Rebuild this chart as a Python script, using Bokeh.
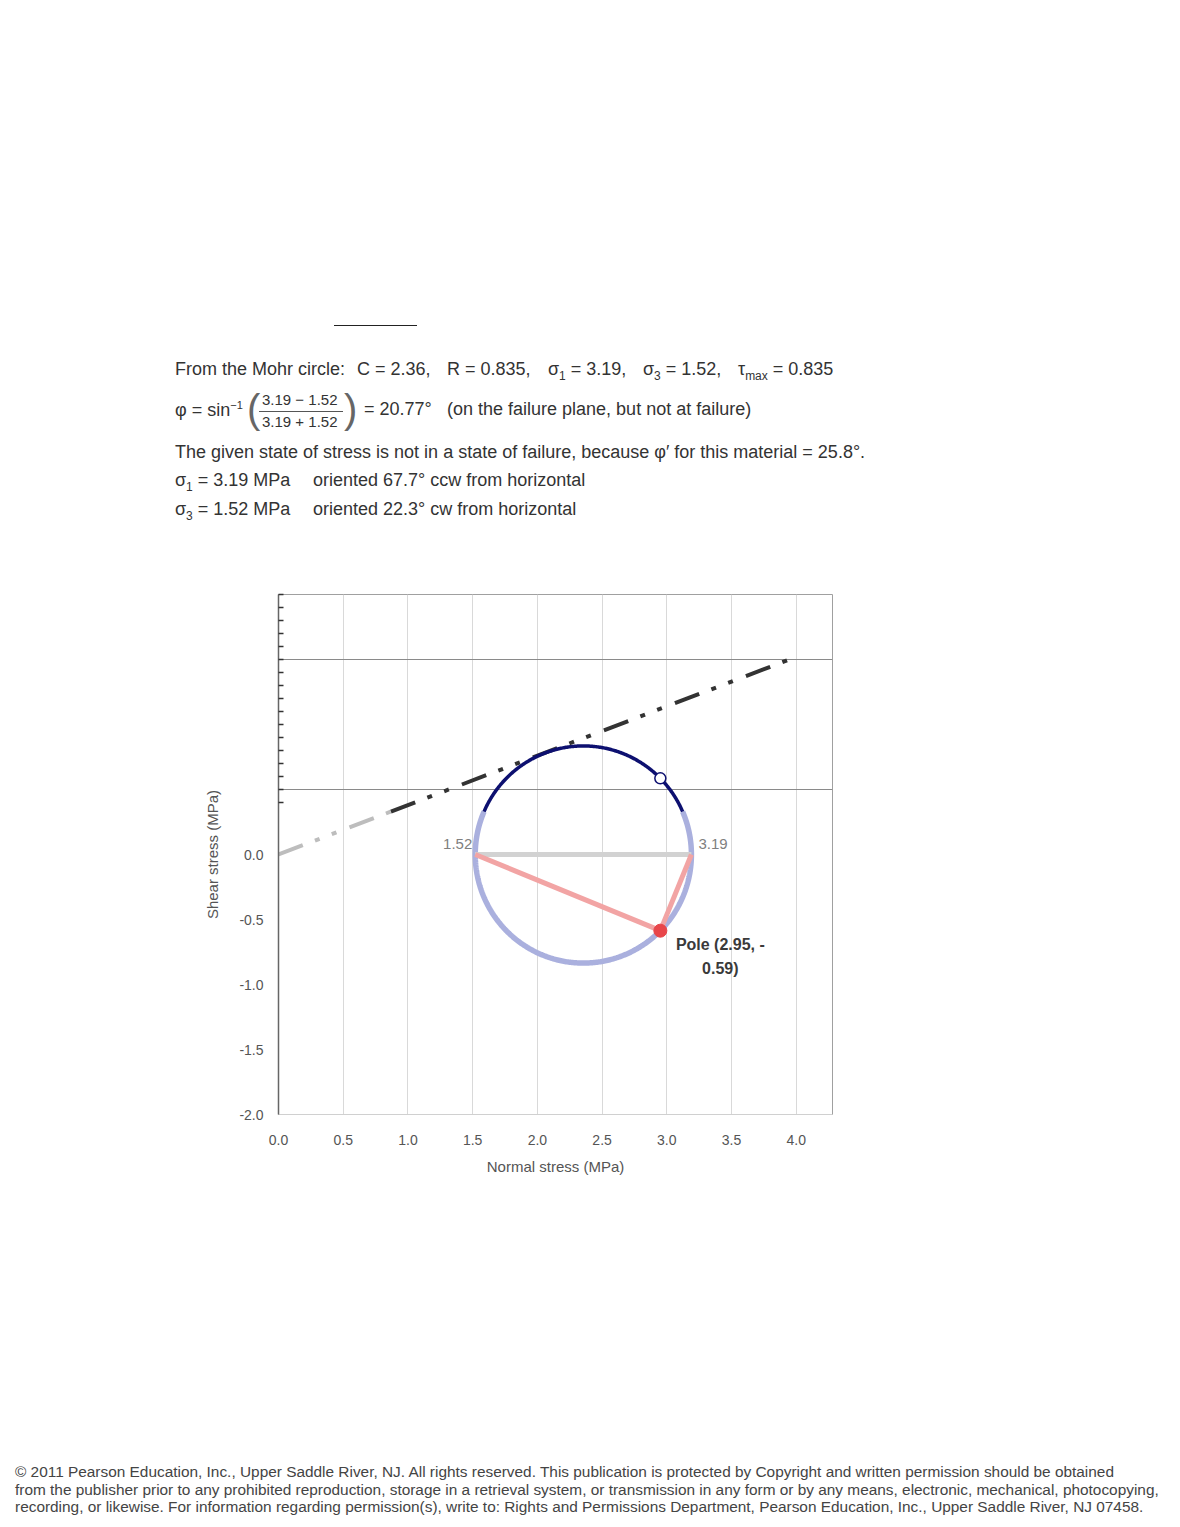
import numpy as np
from bokeh.plotting import figure
from bokeh.models import Div, FixedTicker, PrintfTickFormatter
from bokeh.layouts import column
from bokeh.core.properties import value
from bokeh.embed import file_html
from bokeh.resources import INLINE

# ---------------- data ----------------
sigma1 = 3.19          # major principal stress (MPa)
sigma3 = 1.52          # minor principal stress (MPa)
center = 2.355         # Mohr circle centre
radius = 0.835         # Mohr circle radius
pole = (2.95, -0.586)  # pole point
plane_pt = (2.95, 0.586)  # stress-state point (open marker)
env_sigma = [0.0, 4.0]     # failure envelope
env_tau = [0.0, 1.52]
x_ticks = [0.0, 0.5, 1.0, 1.5, 2.0, 2.5, 3.0, 3.5, 4.0]
y_ticks = [-2.0, -1.5, -1.0, -0.5, 0.0]
y_minor = [round(0.4 + 0.1 * i, 1) for i in range(17)]
y_grid = [0.5, 1.5]
end_labels = ["1.52", "3.19"]
pole_label = ["Pole (2.95, -", "0.59)"]

SPLIT = 0.33  # boundary between the sharp and the soft part of the picture

FONT = "Liberation Sans"

# ---------------- figure ----------------
p = figure(width=1164, height=866, x_range=(0, 4.28), y_range=(-2.0, 2.0),
           output_backend="svg", toolbar_location=None,
           min_border_left=278, min_border_right=332,
           min_border_top=18, min_border_bottom=328,
           background_fill_color="white", border_fill_color="white")

p.outline_line_color = "#a0a0a0"
p.outline_line_width = 1

p.xaxis.ticker = FixedTicker(ticks=x_ticks)
p.yaxis.ticker = FixedTicker(ticks=y_ticks, minor_ticks=y_minor)
p.xgrid.ticker = FixedTicker(ticks=x_ticks)
p.ygrid.ticker = FixedTicker(ticks=y_grid)
p.xgrid.grid_line_color = "#d9d9d9"
p.ygrid.grid_line_color = "#8a8a8a"
p.xaxis.formatter = PrintfTickFormatter(format="%.1f")
p.yaxis.formatter = PrintfTickFormatter(format="%.1f")

for ax in (p.xaxis, p.yaxis):
    ax.major_label_text_font = FONT
    ax.major_label_text_font_size = "14px"
    ax.major_label_text_color = "#555555"
    ax.axis_label_text_font = FONT
    ax.axis_label_text_font_size = "15px"
    ax.axis_label_text_font_style = "normal"
    ax.axis_label_text_color = "#555555"

p.xaxis.axis_label = "Normal stress (MPa)"
p.xaxis.axis_line_color = "#d0d0d0"
p.xaxis.major_tick_line_color = None
p.xaxis.minor_tick_line_color = None
p.xaxis.major_label_standoff = 14
p.xaxis.axis_label_standoff = 10

p.yaxis.axis_label = "Shear stress (MPa)"
p.yaxis.axis_line_color = "#666666"
p.yaxis.axis_line_width = 1.5
p.yaxis.major_tick_in = 0
p.yaxis.major_tick_out = 0
p.yaxis.minor_tick_in = 5
p.yaxis.minor_tick_out = 0
p.yaxis.minor_tick_line_color = "#333333"
p.yaxis.minor_tick_line_width = 1.5
p.yaxis.major_label_standoff = 15
p.yaxis.axis_label_standoff = 15

# failure envelope (dash-dot-dot)
slope = (env_tau[1] - env_tau[0]) / (env_sigma[1] - env_sigma[0])
s_split = env_sigma[0] + (SPLIT - env_tau[0]) / slope
p.line([env_sigma[0], s_split], [env_tau[0], SPLIT], line_color="#bdbdbd",
       line_width=4, line_dash="26 13 5 13 5 14")
p.line([s_split, env_sigma[1]], [SPLIT, env_tau[1]], line_color="#333333",
       line_width=4, line_dash="26 13 5 13 5 14")

# Mohr circle
a = np.arcsin(SPLIT / radius)
th_up = np.linspace(a, np.pi - a, 240)
th_lo = np.linspace(np.pi - a, 2 * np.pi + a, 360)
p.line(center + radius * np.cos(th_lo), radius * np.sin(th_lo),
       line_color="#aab0de", line_width=5.5)
p.line(center + radius * np.cos(th_up), radius * np.sin(th_up),
       line_color="#0d1070", line_width=3.5)

# diameter sigma3 - sigma1
p.line([sigma3, sigma1], [0, 0], line_color="#d2d2d2", line_width=5)
# lines from pole to principal stresses
p.line([sigma3, pole[0]], [0, pole[1]], line_color="#f2a4a4", line_width=5)
p.line([sigma1, pole[0]], [0, pole[1]], line_color="#f2a4a4", line_width=5)

p.scatter([pole[0]], [pole[1]], size=13, fill_color="#e8464a", line_color="#e8464a")
p.scatter([plane_pt[0]], [plane_pt[1]], size=11, fill_color="white",
          line_color="#0d1070", line_width=1.5)

# end labels
p.text(x=[sigma3], y=[0], text=[end_labels[0]], x_offset=-3, y_offset=-11,
       text_align="right", text_baseline="middle", text_font=value(FONT),
       text_font_size="15px", text_color="#808080")
p.text(x=[sigma1], y=[0], text=[end_labels[1]], x_offset=7, y_offset=-11,
       text_align="left", text_baseline="middle", text_font=value(FONT),
       text_font_size="15px", text_color="#808080")
# pole label
p.text(x=[pole[0], pole[0]], y=[pole[1], pole[1]], text=pole_label,
       x_offset=[60, 60], y_offset=[14, 38], text_align="center",
       text_baseline="middle", text_font=value(FONT), text_font_size="16px",
       text_font_style="bold", text_color="#3a3a3a")

# ---------------- page text ----------------
OX, OY = 5, 5   # page offset of the text blocks


def span(x, yc, html, size=18, color="#333"):
    top = yc - size * 0.6 - OY
    return (f'<div style="position:absolute;left:{x-OX}px;top:{top}px;'
            f'font-family:\'{FONT}\';font-size:{size}px;color:{color};'
            f'white-space:nowrap;line-height:1.2;">{html}</div>')


SUB = "<sub style='font-size:12px'>{}</sub>"
parts = []
parts.append(f'<div style="position:absolute;left:{334-OX}px;top:{325-OY}px;width:83px;'
             'border-top:1.5px solid #222;"></div>')
parts += [
    span(175, 370, "From the Mohr circle:"),
    span(357, 370, "C = 2.36,"),
    span(447, 370, "R = 0.835,"),
    span(548, 370, "σ" + SUB.format("1") + " = 3.19,"),
    span(643, 370, "σ" + SUB.format("3") + " = 1.52,"),
    span(738, 370, "τ" + SUB.format("max") + " = 0.835"),
    span(175, 410, "φ = sin<sup style='font-size:11px'>−1</sup>"),
    span(247, 409, "(", size=40, color="#666"),
    span(262, 400, "3.19 − 1.52", size=15),
    span(262, 422, "3.19 + 1.52", size=15),
    span(344, 409, ")", size=40, color="#666"),
    span(364, 410, "= 20.77°"),
    span(447, 410, "(on the failure plane, but not at failure)"),
    span(175, 453, "The given state of stress is not in a state of failure, "
                   "because φ′ for this material = 25.8°."),
    span(175, 481, "σ" + SUB.format("1") + " = 3.19 MPa"),
    span(313, 481, "oriented 67.7° ccw from horizontal"),
    span(175, 510, "σ" + SUB.format("3") + " = 1.52 MPa"),
    span(313, 510, "oriented 22.3° cw from horizontal"),
]
parts.append(f'<div style="position:absolute;left:{259-OX}px;top:{411-OY}px;width:84px;'
             'border-top:1px solid #555;"></div>')
top_div = Div(text='<div style="position:relative;width:1164px;height:566px;">'
              + "".join(parts) + "</div>", width=1164, height=566)

foot_lines = [
    "© 2011 Pearson Education, Inc., Upper Saddle River, NJ. All rights reserved. "
    "This publication is protected by Copyright and written permission should be obtained",
    "from the publisher prior to any prohibited reproduction, storage in a retrieval system, "
    "or transmission in any form or by any means, electronic, mechanical, photocopying,",
    "recording, or likewise. For information regarding permission(s), write to: Rights and "
    "Permissions Department, Pearson Education, Inc., Upper Saddle River, NJ 07458.",
]
fparts = []
for i, t in enumerate(foot_lines):
    top = 17 + i * 17.5
    fparts.append(f'<div style="position:absolute;left:10px;top:{top}px;'
                  f'font-family:\'{FONT}\';font-size:15.4px;color:#444;'
                  f'white-space:nowrap;line-height:1.1;">{t}</div>')
foot_div = Div(text='<div style="position:relative;width:1164px;height:75px;">'
               + "".join(fparts) + "</div>", width=1164, height=75)

layout = column(top_div, p, foot_div, spacing=0)
open("out.html", "w").write(file_html(layout, INLINE))
